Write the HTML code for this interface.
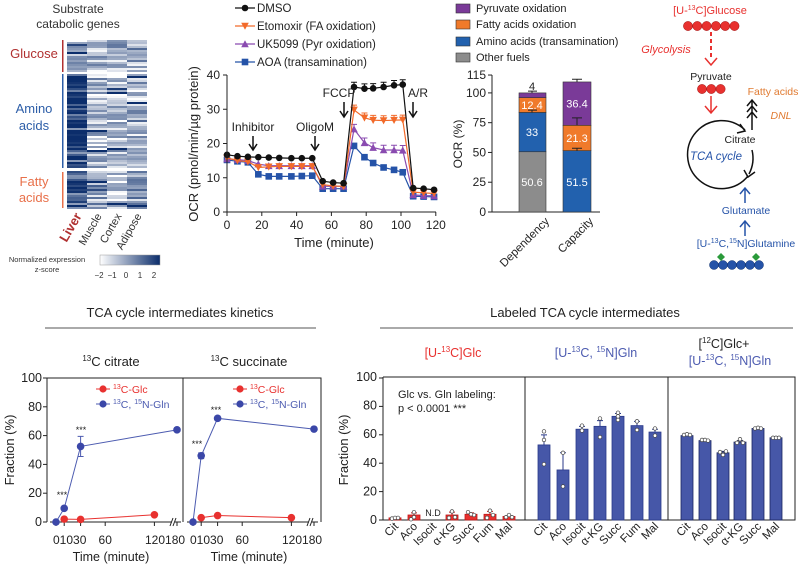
<!DOCTYPE html>
<html><head><meta charset="utf-8"><style>
body{margin:0;background:#fff}
svg{display:block;font-family:"Liberation Sans",Arial,sans-serif}
</style></head><body>
<svg id="s" width="800" height="564" viewBox="0 0 800 564" xmlns="http://www.w3.org/2000/svg">
<g id="g"></g>
<!-- heatmap labels -->
<text x="78" y="13" font-size="12" text-anchor="middle" fill="#333">Substrate</text>
<text x="78" y="28" font-size="12" text-anchor="middle" fill="#333">catabolic genes</text>
<rect x="62" y="40" width="1.5" height="32" fill="#b03030"/>
<rect x="62" y="74" width="1.5" height="94" fill="#2d5ea8"/>
<rect x="62" y="172" width="1.5" height="36" fill="#e8704a"/>
<text x="34" y="58" font-size="13" text-anchor="middle" fill="#b03030">Glucose</text>
<text x="34" y="113" font-size="13" text-anchor="middle" fill="#2d5ea8">Amino</text>
<text x="34" y="130" font-size="13" text-anchor="middle" fill="#2d5ea8">acids</text>
<text x="34" y="186" font-size="13" text-anchor="middle" fill="#e8704a">Fatty</text>
<text x="34" y="202" font-size="13" text-anchor="middle" fill="#e8704a">acids</text>
<text transform="translate(82,216) rotate(-60)" font-size="13" font-weight="bold" text-anchor="end" fill="#b03030">Liver</text>
<text transform="translate(102,216) rotate(-60)" font-size="11" text-anchor="end" fill="#333">Muscle</text>
<text transform="translate(122,216) rotate(-60)" font-size="11" text-anchor="end" fill="#333">Cortex</text>
<text transform="translate(142,216) rotate(-60)" font-size="11" text-anchor="end" fill="#333">Adipose</text>
<defs><linearGradient id="cb"><stop offset="0" stop-color="#fff"/><stop offset="1" stop-color="#0b2d6b"/></linearGradient></defs>
<rect x="100" y="255" width="60" height="10" fill="url(#cb)" stroke="#999" stroke-width="0.5"/>
<text x="47" y="262" font-size="7.5" text-anchor="middle" fill="#333">Normalized expression</text>
<text x="47" y="272" font-size="7.5" text-anchor="middle" fill="#333">z-score</text>
<g font-size="8" text-anchor="middle" fill="#333"><text x="99" y="278">−2</text><text x="112" y="278">−1</text><text x="126" y="278">0</text><text x="140" y="278">1</text><text x="154" y="278">2</text></g>

<!-- OCR chart -->
<g stroke="#222" stroke-width="1" fill="none"><path d="M227,75 V212 H436"/></g>
<g font-size="12" fill="#222" text-anchor="end" id="ocry"></g>
<text transform="translate(198,144) rotate(-90)" font-size="13" text-anchor="middle" fill="#222">OCR (pmol/min/µg protein)</text>
<text x="334" y="247" font-size="13" text-anchor="middle" fill="#222">Time (minute)</text>
<g font-size="12" fill="#222" text-anchor="middle"><text x="253" y="131">Inhibitor</text><text x="315" y="131">OligoM</text><text x="339" y="97">FCCP</text><text x="418" y="97">A/R</text></g>
<g font-size="11.5" fill="#222"><text x="257" y="12">DMSO</text><text x="257" y="30">Etomoxir (FA oxidation)</text><text x="257" y="48">UK5099 (Pyr oxidation)</text><text x="257" y="66">AOA (transamination)</text></g>

<!-- stacked bars -->
<text transform="translate(462,144) rotate(-90)" font-size="12" text-anchor="middle" fill="#222">OCR (%)</text>
<g font-size="11" fill="#222"><text x="476" y="12">Pyruvate oxidation</text><text x="476" y="28">Fatty acids oxidation</text><text x="476" y="45">Amino acids (transamination)</text><text x="476" y="61">Other fuels</text></g>
<text transform="translate(550,222) rotate(-45)" font-size="11.5" text-anchor="end" fill="#222">Dependency</text>
<text transform="translate(594,222) rotate(-45)" font-size="11.5" text-anchor="end" fill="#222">Capacity</text>

<!-- diagram -->
<text x="710" y="14" font-size="11" text-anchor="middle" fill="#e8312f">[U-<tspan font-size="7" dy="-4">13</tspan><tspan dy="4">C]Glucose</tspan></text>
<text x="666" y="53" font-size="11" font-style="italic" text-anchor="middle" fill="#e8312f">Glycolysis</text>
<text x="711" y="80" font-size="10.5" text-anchor="middle" fill="#222">Pyruvate</text>
<text x="773" y="95" font-size="10.5" text-anchor="middle" fill="#e07a30">Fatty acids</text>
<text x="781" y="119" font-size="10.5" font-style="italic" text-anchor="middle" fill="#e07a30">DNL</text>
<text x="740" y="143" font-size="10.5" text-anchor="middle" fill="#222">Citrate</text>
<text x="716" y="160" font-size="11.5" font-style="italic" text-anchor="middle" fill="#2553a8">TCA cycle</text>
<text x="746" y="214" font-size="10.5" text-anchor="middle" fill="#2553a8">Glutamate</text>
<text x="746" y="247" font-size="10.5" text-anchor="middle" fill="#2553a8">[U-<tspan font-size="7" dy="-4">13</tspan><tspan dy="4">C,</tspan><tspan font-size="7" dy="-4">15</tspan><tspan dy="4">N]Glutamine</tspan></text>
<path d="M711,32 V60" stroke="#e8312f" stroke-width="2" stroke-dasharray="4,3"/>
<path d="M705,58 L711,65 L717,58" stroke="#e8312f" stroke-width="1.5" fill="none"/>
<path d="M711,96 V112 M705,106 L711,113 L717,106" stroke="#e8312f" stroke-width="1.5" fill="none"/>
<path d="M745,130 A34,34 0 1 0 748,176" stroke="#111" stroke-width="1.5" fill="none"/>
<path d="M740,124 L745,131 L737,133" stroke="#111" stroke-width="1.5" fill="none"/>
<path d="M752,150 A34,34 0 0 1 749,174 M744,170 L748,177 L755,172" stroke="#111" stroke-width="1.5" fill="none"/>
<path d="M752,130 V100 M747,106 L752,100 L757,106 M747,112 L752,106 L757,112 M747,118 L752,112 L757,118" stroke="#111" stroke-width="1.5" fill="none"/>
<path d="M745,203 V189 M740,194 L745,188 L750,194 M745,236 V222 M740,227 L745,221 L750,227" stroke="#2553a8" stroke-width="1.5" fill="none"/>

<!-- bottom left -->
<text x="180" y="317" font-size="13" text-anchor="middle" fill="#222">TCA cycle intermediates kinetics</text>
<path d="M45,328 H316" stroke="#555"/>
<text x="111" y="366" font-size="13" text-anchor="middle" fill="#222"><tspan font-size="8" dy="-5">13</tspan><tspan dy="5">C citrate</tspan></text>
<text x="249" y="366" font-size="13" text-anchor="middle" fill="#222"><tspan font-size="8" dy="-5">13</tspan><tspan dy="5">C succinate</tspan></text>
<text transform="translate(14,450) rotate(-90)" font-size="13" text-anchor="middle" fill="#222">Fraction (%)</text>
<g font-size="12.5" text-anchor="middle" fill="#222"><text x="111" y="561">Time (minute)</text><text x="249" y="561">Time (minute)</text></g>

<!-- bottom right -->
<text x="585" y="317" font-size="13" text-anchor="middle" fill="#222">Labeled TCA cycle intermediates</text>
<path d="M380,328 H793" stroke="#555"/>
<text x="453" y="357" font-size="12.5" text-anchor="middle" fill="#e8312f">[U-<tspan font-size="8" dy="-5">13</tspan><tspan dy="5">C]Glc</tspan></text>
<text x="596" y="357" font-size="12.5" text-anchor="middle" fill="#4c5bb0">[U-<tspan font-size="8" dy="-5">13</tspan><tspan dy="5">C, </tspan><tspan font-size="8" dy="-5">15</tspan><tspan dy="5">N]Gln</tspan></text>
<text x="724" y="348" font-size="12.5" text-anchor="middle" fill="#222">[<tspan font-size="8" dy="-5">12</tspan><tspan dy="5">C]Glc+</tspan></text>
<text x="730" y="365" font-size="12.5" text-anchor="middle" fill="#4c5bb0">[U-<tspan font-size="8" dy="-5">13</tspan><tspan dy="5">C, </tspan><tspan font-size="8" dy="-5">15</tspan><tspan dy="5">N]Gln</tspan></text>
<text transform="translate(348,450) rotate(-90)" font-size="13" text-anchor="middle" fill="#222">Fraction (%)</text>
<text x="398" y="398" font-size="11" fill="#222">Glc vs. Gln labeling:</text>
<text x="398" y="412" font-size="11" fill="#222">p &lt; 0.0001 ***</text>
<text x="433" y="516" font-size="9" text-anchor="middle" fill="#222">N.D</text>
</svg>
<script>
const NS="http://www.w3.org/2000/svg",G=document.getElementById('g');
function el(t,a,txt){const e=document.createElementNS(NS,t);for(const k in a)e.setAttribute(k,a[k]);if(txt!=null)e.textContent=txt;G.appendChild(e);return e;}
// heatmap
let seed=7;function r(){seed=(seed*16807)%2147483647;return seed/2147483647;}
function col(z){z=Math.max(0,Math.min(1,z));const a=[255,255,255],b=[11,45,107];return`rgb(${a.map((v,i)=>Math.round(v+(b[i]-v)*z)).join(',')})`;}
const secs=[[40,72,[0.25,0.35,0.35,0.4]],[74,168,[0.8,0.3,0.25,0.3]],[171,208,[0.8,0.4,0.25,0.4]]];
for(const[s,e,m]of secs){for(let y=s;y<e;y+=2){for(let c=0;c<4;c++){let z=m[c]+(r()-0.5)*0.7;if(r()<0.08)z+=0.5;el('rect',{x:67+c*20,y:y,width:20,height:2,fill:col(z)});}}}
// OCR chart
const X=t=>227+t*1.74,Y=v=>212-v*3.425;
const yt=document.getElementById('ocry');
for(let v=0;v<=40;v+=10){el('line',{x1:223,x2:227,y1:Y(v),y2:Y(v),stroke:'#222'});el('text',{x:220,y:Y(v)+4,'font-size':12,'text-anchor':'end',fill:'#222'},v);}
for(let t=0;t<=120;t+=20){el('line',{x1:X(t),x2:X(t),y1:212,y2:216,stroke:'#222'});el('text',{x:X(t),y:229,'font-size':12,'text-anchor':'middle',fill:'#222'},t);}
const T=[0,6,12,18,24,30,37,43,49,55,61,67,73,79,84,90,96,101,107,113,119];
const S=[
['#2553a8','sq',[15.2,14.8,14.5,11,10.4,10.4,10.4,10.5,10.6,6.8,6.8,6.8,19.3,16,14.3,13,12.3,11.6,4.6,4.5,4.4]],
['#8a4bb0','tri',[15.5,15.3,15,14,13.5,13.5,13.5,13.5,13.5,7.5,7.5,7.5,24.2,20.2,18.8,18.1,18.1,18,5,4.8,4.7]],
['#f26a2a','dtri',[15.8,15,14.7,13,13.2,13.3,13.3,13.3,13.3,8,7.6,7.5,29.8,27.5,26.8,26.7,26.8,26.9,5.8,5.6,5.4]],
['#111','circ',[16.7,16.3,16.1,16,15.9,15.8,15.7,15.7,15.7,9,8.6,8.4,36.5,36,36.1,36.5,37,37.2,7,6.8,6.5]]];
function mark(k,x,y,c,s){s=s||3.3;if(k=='circ')el('circle',{cx:x,cy:y,r:s,fill:c});else if(k=='sq')el('rect',{x:x-s,y:y-s,width:2*s,height:2*s,fill:c});else if(k=='tri')el('path',{d:`M${x},${y-s-0.5}L${x+s+0.5},${y+s}L${x-s-0.5},${y+s}Z`,fill:c});else el('path',{d:`M${x},${y+s+0.5}L${x+s+0.5},${y-s}L${x-s-0.5},${y-s}Z`,fill:c});}
for(const[c,k,d]of S){el('polyline',{points:T.map((t,i)=>X(t)+','+Y(d[i])).join(' '),fill:'none',stroke:c,'stroke-width':1.2});
 T.forEach((t,i)=>{if(i>=12&&i<18&&k!='sq'){el('path',{d:`M${X(t)},${Y(d[i])} V${Y(d[i]+1.4)} M${X(t)-3},${Y(d[i]+1.4)} H${X(t)+3}`,stroke:c,fill:'none'});}mark(k,X(t),Y(d[i]),c);});}
[[0,8,'#111','circ'],[1,26,'#f26a2a','dtri'],[2,44,'#8a4bb0','tri'],[3,62,'#2553a8','sq']].forEach(([i,y,c,k])=>{el('line',{x1:235,x2:255,y1:y,y2:y,stroke:c,'stroke-width':1.2});mark(k,245,y,c);});
function arrow(x,y1,y2){el('path',{d:`M${x},${y1}V${y2}M${x-4},${y2-6}L${x},${y2}L${x+4},${y2-6}`,stroke:'#111','stroke-width':1.5,fill:'none'});}
arrow(253,136,150);arrow(315,136,150);arrow(344,102,117);arrow(413,102,117);
// stacked bars
const B=v=>212-v*1.191;
el('path',{d:'M492,75V212H600',stroke:'#222',fill:'none'});
[0,25,50,75,100,115].forEach(v=>{el('line',{x1:488,x2:492,y1:B(v),y2:B(v),stroke:'#222'});el('text',{x:486,y:B(v)+4,'font-size':12,'text-anchor':'end',fill:'#222'},v);});
function stack(x,segs,w){for(const[a,b,c]of segs)el('rect',{x:x,y:B(b),width:w,height:B(a)-B(b),fill:c,stroke:'#333','stroke-width':0.6});}
stack(519,[[0,50.6,'#8c8c8c'],[50.6,83.6,'#2261ae'],[83.6,96,'#f07a2a'],[96,100,'#7a3a98']],27);
stack(563,[[0,51.5,'#2261ae'],[51.5,72.8,'#f07a2a'],[72.8,109.2,'#7a3a98']],28);
el('path',{d:`M532,${B(100)}V${B(101.5)}M528,${B(101.5)}H537 M532,${B(83.6)}V${B(85.5)}M528,${B(85.5)}H537 M577,${B(109.2)}V${B(111.5)}M572,${B(111.5)}H582 M577,${B(72.8)}V${B(79)}M572,${B(79)}H582 M577,${B(51.5)}V${B(53.5)}M572,${B(53.5)}H582`,stroke:'#222',fill:'none'});
[[532,B(102.5),'4','#222'],[532,B(90)+4,'12.4','#fff'],[532,B(67)+4,'33','#fff'],[532,B(25)+4,'50.6','#fff'],[577,B(91)+4,'36.4','#fff'],[577,B(62)+4,'21.3','#fff'],[577,B(25)+4,'51.5','#fff']].forEach(([x,y,t,c])=>el('text',{x,y,'font-size':11,'text-anchor':'middle',fill:c},t));
[['#7a3a98',4],['#f07a2a',20],['#2261ae',37],['#8c8c8c',53]].forEach(([c,y])=>el('rect',{x:456,y:y,width:14,height:9,fill:c,stroke:'#333','stroke-width':0.6}));
// diagram circles
for(let i=0;i<6;i++)el('circle',{cx:688+i*9.3,cy:26,r:4.6,fill:'#e8312f',stroke:'#a01010','stroke-width':0.5});
for(let i=0;i<3;i++)el('circle',{cx:702+i*9.3,cy:89,r:4.6,fill:'#e8312f',stroke:'#a01010','stroke-width':0.5});
for(let i=0;i<6;i++)el('circle',{cx:714+i*9,cy:265,r:4.5,fill:'#2553a8',stroke:'#0b2d6b','stroke-width':0.5});
[[721,257],[756,257]].forEach(([x,y])=>el('path',{d:`M${x},${y-4}L${x+4},${y}L${x},${y+4}L${x-4},${y}Z`,fill:'#2a9a3a'}));
// kinetics
const KY=v=>522-1.44*v;
el('path',{d:'M47,378V522 M47,378H321V522 M183,378V522',stroke:'#222',fill:'none'});
for(let v=0;v<=100;v+=20){el('line',{x1:43,x2:47,y1:KY(v),y2:KY(v),stroke:'#222'});el('text',{x:42,y:KY(v)+4,'font-size':12.5,'text-anchor':'end',fill:'#222'},v);}
function kin(o,gln,glc,stars){const KX=t=>t<=120?o+56+t*0.82:o+177;
 el('path',{d:`M${o+50},522H${o+172}M${o+175},522H${o+181}M${o+170},526l3,-8M${o+173},526l3,-8`,stroke:'#222',fill:'none'});
 [0,10,30,60,120,180].forEach(t=>el('line',{x1:KX(t),x2:KX(t),y1:522,y2:526,stroke:'#222'}));
 el('text',{x:o+53,y:544,'font-size':12,fill:'#222'},'01030');el('text',{x:KX(60),y:544,'font-size':12,'text-anchor':'middle',fill:'#222'},'60');el('text',{x:o+145,y:544,'font-size':12,fill:'#222'},'120180');
 el('polyline',{points:glc.map(([t,v])=>KX(t)+','+KY(v)).join(' '),fill:'none',stroke:'#e8312f'});
 glc.forEach(([t,v])=>el('circle',{cx:KX(t),cy:KY(v),r:3.8,fill:'#e8312f'}));
 el('polyline',{points:gln.map(([t,v])=>KX(t)+','+KY(v)).join(' '),fill:'none',stroke:'#4c5bb0'});
 gln.forEach(([t,v,e])=>{if(e)el('path',{d:`M${KX(t)},${KY(v-e)}V${KY(v+e)}M${KX(t)-3},${KY(v-e)}H${KX(t)+3}M${KX(t)-3},${KY(v+e)}H${KX(t)+3}`,stroke:'#4c5bb0',fill:'none'});el('circle',{cx:KX(t),cy:KY(v),r:3.8,fill:'#3b47a8'});});
 stars.forEach(([x,y])=>el('text',{x:x,y:y,'font-size':9,'text-anchor':'middle',fill:'#222'},'***'));
 el('line',{x1:o+96,x2:o+110,y1:389,y2:389,stroke:'#e8312f'});el('circle',{cx:o+103,cy:389,r:3.6,fill:'#e8312f'});
 el('line',{x1:o+96,x2:o+110,y1:404,y2:404,stroke:'#4c5bb0'});el('circle',{cx:o+103,cy:404,r:3.6,fill:'#3b47a8'});
 const t1=el('text',{x:o+113,y:393,'font-size':10.5,fill:'#e8312f'});t1.innerHTML='<tspan font-size="7" dy="-4">13</tspan><tspan dy="4">C-Glc</tspan>';
 const t2=el('text',{x:o+113,y:408,'font-size':10.5,fill:'#4c5bb0'});t2.innerHTML='<tspan font-size="7" dy="-4">13</tspan><tspan dy="4">C, </tspan><tspan font-size="7" dy="-4">15</tspan><tspan dy="4">N-Gln</tspan>';}
kin(0,[[0,0],[10,9.5],[30,52.5,7],[180,64]],[[10,2],[30,1.8],[120,5]],[[62,498],[81,433]]);
kin(137,[[0,0],[10,46,2],[30,72],[180,64.5]],[[10,3],[30,4.5],[120,3]],[[197,447],[216,413]]);
// labeled bars
el('path',{d:'M383,377V520H795V377H383M525,377V520M668,377V520',stroke:'#222',fill:'none'});
for(let v=0;v<=100;v+=20){el('line',{x1:379,x2:383,y1:KY(v)-2+0.02*v,y2:KY(v)-2+0.02*v,stroke:'#222'});}
const LY=v=>520-1.43*v;
for(let v=0;v<=100;v+=20)el('text',{x:377,y:LY(v)+4,'font-size':12.5,'text-anchor':'end',fill:'#222'},v);
const names1=['Cit','Aco','Isocit','α-KG','Succ','Fum','Mal'];
function bars(xs,vals,names,fill,stroke,errs,pts){xs.forEach((x,i)=>{const v=vals[i];if(v!=null){el('rect',{x:x-6,y:LY(v),width:12,height:LY(0)-LY(v),fill:fill,stroke:stroke,'stroke-width':0.8});
 if(errs&&errs[i])el('path',{d:`M${x},${LY(v)}V${LY(v+errs[i])}M${x-3},${LY(v+errs[i])}H${x+3}`,stroke:stroke,fill:'none'});
 (pts[i]||[]).forEach(([dx,pv])=>el('circle',{cx:x+dx,cy:LY(pv),r:1.8,fill:'#fff',stroke:'#444','stroke-width':0.7}));}
 el('text',{transform:`translate(${x+4},${527}) rotate(-45)`,'font-size':11.5,'text-anchor':'end',fill:'#222'},names[i]);});}
bars([395,414,433,452,471,490,509],[1.5,3.5,null,3.5,4,4,2.5],names1,'#e8312f','#c01818',[0,1.5,0,2,1,2,0.5],[[[-3,1],[0,1.5],[3,1.5]],[[0,5.5],[0,2],[-3,0.5]],[],[[0,6],[-3,1.5],[3,2]],[[-3,5.5],[3,3.5],[0,4]],[[0,6.5],[3,3.5],[-3,1.5]],[[-3,2],[0,3.5],[3,2]]]);
bars([544,563,582,600,618,637,655],[52.5,35,63.5,65.5,72.5,66,61.5],names1,'#4657a8','#2a3a8a',[7,12,2,4,2,3,2],[[[0,62],[0,56],[0,39]],[[0,47],[0,23.5]],[[0,66],[0,62.5]],[[0,71],[0,58]],[[0,75],[0,70],[0,72.5]],[[0,69],[0,63]],[[0,64],[0,59]]]);
bars([687,705,723,740,758,776],[59,55.5,47,54.5,64,57.5],['Cit','Aco','Isocit','α-KG','Succ','Mal'],'#4657a8','#1a2560',[0,0,1,1,0,0],[[[-3,59.5],[0,60],[3,59.5]],[[-3,56],[0,56],[3,55.5]],[[-3,47.5],[0,45.5],[3,48]],[[-3,54],[0,56.5],[3,54]],[[-3,64],[0,64.5],[3,64]],[[-3,57.5],[0,57.5],[3,57.5]]]);
</script>
</body></html>
